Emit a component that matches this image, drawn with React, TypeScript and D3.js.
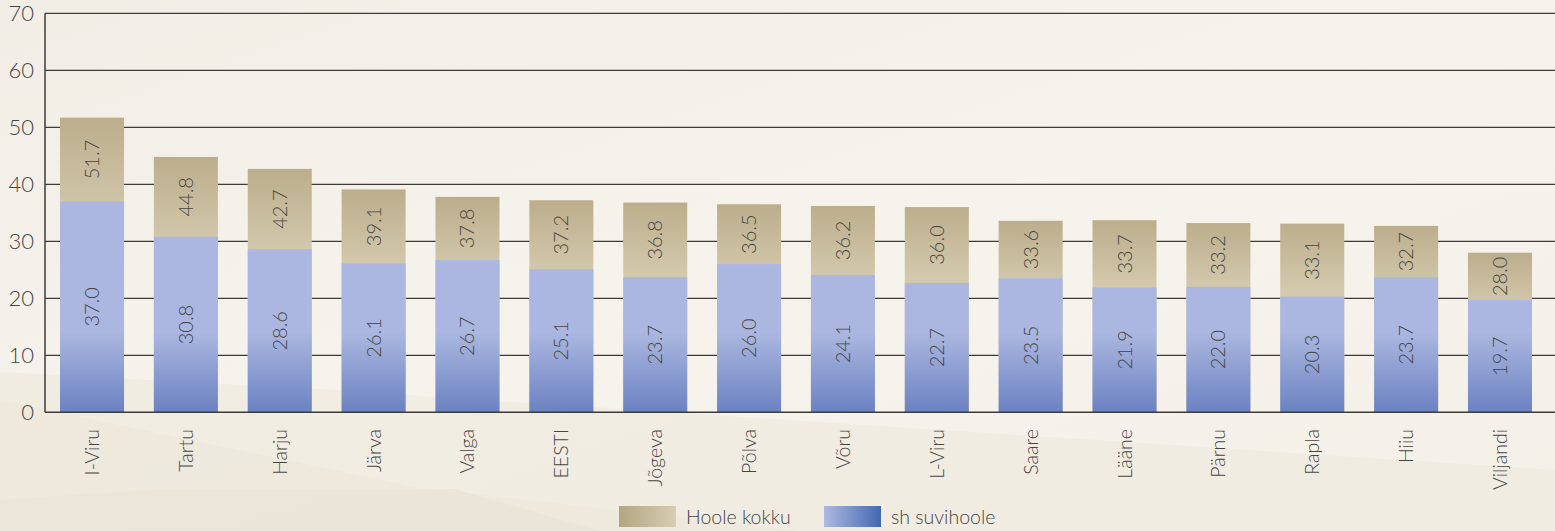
import React from "react";
import * as d3 from "d3";

const categories = ["I-Viru", "Tartu", "Harju", "Järva", "Valga", "EESTI", "Jõgeva", "Põlva", "Võru", "L-Viru", "Saare", "Lääne", "Pärnu", "Rapla", "Hiiu", "Viljandi"];
const totalValues = [51.7, 44.8, 42.7, 39.1, 37.8, 37.2, 36.8, 36.5, 36.2, 36.0, 33.6, 33.7, 33.2, 33.1, 32.7, 28.0];
const summerValues = [37.0, 30.8, 28.6, 26.1, 26.7, 25.1, 23.7, 26.0, 24.1, 22.7, 23.5, 21.9, 22.0, 20.3, 23.7, 19.7];
const yTicks = [0, 10, 20, 30, 40, 50, 60, 70];
const legendLabels = ["Hoole kokku", "sh suvihoole"];

const W = 1555;
const H = 531;
const FONT = "Lato, 'Open Sans', sans-serif";
const TEXT = "#464542";

export default function App() {
  const y = d3.scaleLinear().domain([0, 70]).range([412.3, 13.3]);
  const x = d3.scaleBand<string>().domain(categories).range([45, 1547]).paddingInner(0.318).paddingOuter(0.16);
  const bw = x.bandwidth();

  return (
    <svg width={W} height={H} style={{ position: "absolute", left: 0, top: 0, display: "block" }}>
      <defs>
        <linearGradient id="bg" x1="0" y1="0" x2="1" y2="1">
          <stop offset="0" stopColor="#f2eee6" />
          <stop offset="0.5" stopColor="#f6f3ed" />
          <stop offset="1" stopColor="#f4f0e8" />
        </linearGradient>
        <linearGradient id="tan" x1="0" y1="0" x2="0" y2="1">
          <stop offset="0" stopColor="#bcae8c" />
          <stop offset="0.35" stopColor="#d3c9ad" />
          <stop offset="1" stopColor="#d5cbb0" />
        </linearGradient>
        <linearGradient id="blue" gradientUnits="userSpaceOnUse" x1="0" y1={y(14)} x2="0" y2={y(0)}>
          <stop offset="0" stopColor="#abb7e0" />
          <stop offset="1" stopColor="#6b82c2" />
        </linearGradient>
        <linearGradient id="legTan" x1="0" y1="0" x2="1" y2="0">
          <stop offset="0" stopColor="#b2a582" />
          <stop offset="1" stopColor="#d7cdb2" />
        </linearGradient>
        <linearGradient id="legBlue" x1="0" y1="0" x2="1" y2="0">
          <stop offset="0" stopColor="#aeb9e0" />
          <stop offset="1" stopColor="#4467b3" />
        </linearGradient>
      </defs>
      <rect x={0} y={0} width={W} height={H} fill="url(#bg)" />
      <polygon points="0,372 300,388 1555,470 1555,531 0,531" fill="#efe9de" opacity={0.7} />
      <polygon points="0,500 150,490 455,489 600,531 0,531" fill="#e9e2d3" opacity={0.6} />
      <polygon points="0,400 420,488 800,531 0,531" fill="#ebe4d7" opacity={0.45} />

      {yTicks.filter((t) => t > 0).map((t) => (
        <line key={t} x1={45} x2={W} y1={y(t)} y2={y(t)} stroke="#3d3b38" strokeWidth={1.3} />
      ))}

      {categories.map((c, i) => {
        const x0 = x(c)!;
        const yt = y(totalValues[i]);
        const ys = y(summerValues[i]);
        const cx = x0 + bw / 2;
        const tanMid = (yt + ys) / 2;
        const blueMid = (ys + y(0)) / 2;
        return (
          <g key={c}>
            <rect x={x0} y={yt} width={bw} height={y(0) - yt} fill="url(#tan)" />
            <rect x={x0} y={ys} width={bw} height={y(0) - ys} fill="url(#blue)" />
            <text transform={`translate(${cx + 7},${tanMid}) rotate(-90)`} textAnchor="middle" fontFamily={FONT} fontWeight={300} fontSize={20} fill={TEXT}>
              {totalValues[i].toFixed(1)}
            </text>
            <text transform={`translate(${cx + 7},${blueMid}) rotate(-90)`} textAnchor="middle" fontFamily={FONT} fontWeight={300} fontSize={20} fill={TEXT}>
              {summerValues[i].toFixed(1)}
            </text>
            <text transform={`translate(${cx + 7},${429}) rotate(-90)`} textAnchor="end" fontFamily={FONT} fontWeight={300} fontSize={19.5} fill={TEXT}>
              {c}
            </text>
          </g>
        );
      })}

      <line x1={45} x2={45} y1={y(70)} y2={y(0)} stroke="#3d3b38" strokeWidth={1.5} />
      <line x1={45} x2={W} y1={y(0)} y2={y(0)} stroke="#3d3b38" strokeWidth={1.5} />

      {yTicks.map((t) => (
        <text key={t} x={34} y={y(t) + 7.5} textAnchor="end" fontFamily={FONT} fontWeight={300} fontSize={22} fill={TEXT}>
          {t}
        </text>
      ))}

      <rect x={619} y={506} width={57} height={21} fill="url(#legTan)" />
      <text x={686} y={524} fontFamily={FONT} fontWeight={300} fontSize={19.5} fill={TEXT}>{legendLabels[0]}</text>
      <rect x={824} y={506} width={57} height={21} fill="url(#legBlue)" />
      <text x={891} y={524} fontFamily={FONT} fontWeight={300} fontSize={19.5} fill={TEXT}>{legendLabels[1]}</text>
    </svg>
  );
}
